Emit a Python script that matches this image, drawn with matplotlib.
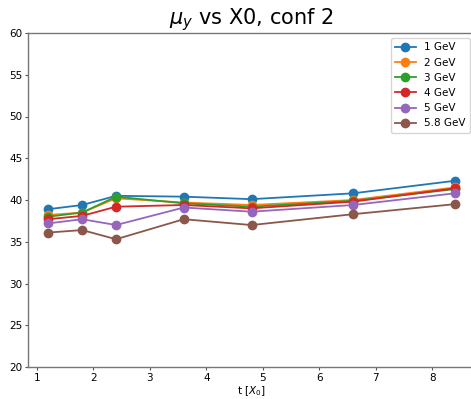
import matplotlib
matplotlib.use("Agg")
import matplotlib.pyplot as plt

t = [1.2, 1.8, 2.4, 3.6, 4.8, 6.6, 8.4]
labels = ["1 GeV", "2 GeV", "3 GeV", "4 GeV", "5 GeV", "5.8 GeV"]
mu_1 = [38.9, 39.4, 40.5, 40.4, 40.1, 40.8, 42.3]
mu_2 = [38.2, 38.5, 40.2, 39.7, 39.4, 40.0, 41.5]
mu_3 = [38.0, 38.5, 40.4, 39.6, 39.2, 39.9, 41.3]
mu_4 = [37.7, 38.1, 39.2, 39.4, 39.0, 39.8, 41.4]
mu_5 = [37.2, 37.7, 37.0, 39.1, 38.6, 39.4, 40.8]
mu_58 = [36.1, 36.4, 35.3, 37.7, 37.0, 38.3, 39.5]
series = [mu_1, mu_2, mu_3, mu_4, mu_5, mu_58]

fig = plt.figure(figsize=(4.71, 3.99), dpi=100)
ax = fig.add_axes([28/471, 32/399, 447/471, 334/399])
for s, lab in zip(series, labels):
    ax.plot(t, s, marker="o", markersize=6, linewidth=1.3, label=lab)
ax.set_ylim(20, 60)
ax.set_title(r"$\mu_y$ vs X0, conf 2", fontsize=15)
ax.set_xlabel(r"t [$X_0$]", fontsize=7.5, labelpad=1)
ax.tick_params(labelsize=7.5, length=2.5, pad=1.5, color="#555555")
for sp in ax.spines.values():
    sp.set_color("#777777")
    sp.set_linewidth(1.0)
ax.legend(fontsize=7.5, loc="upper right")
fig.savefig("out.png", dpi=100)
